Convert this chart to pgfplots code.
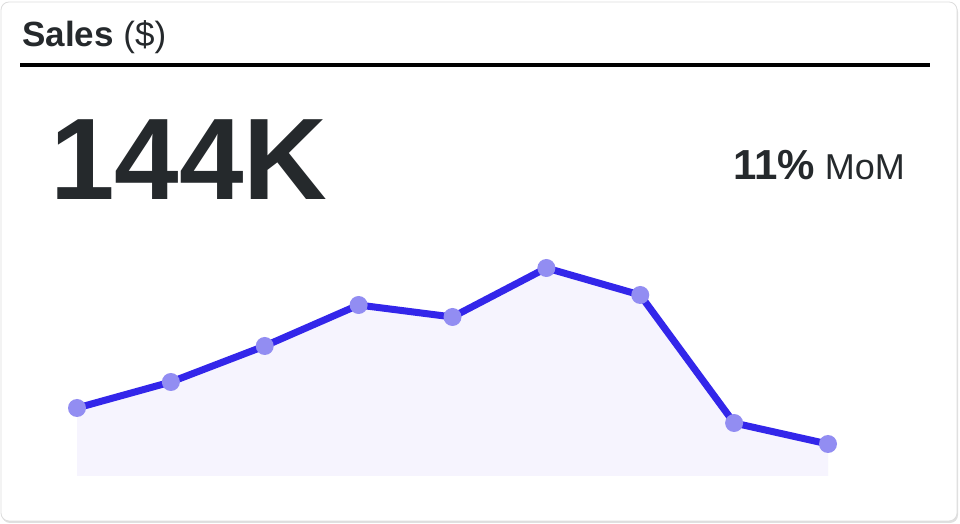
\documentclass[border=0pt]{standalone}
\usepackage{pgfplots}
\pgfplotsset{compat=1.18}
\usepackage{fontspec}
\setmainfont{Liberation Sans}
\definecolor{txt}{HTML}{25292C}
\definecolor{linec}{HTML}{3326EA}
\definecolor{markc}{HTML}{928DF2}
\definecolor{fillc}{HTML}{F6F4FE}
\definecolor{cardb}{HTML}{DDDDDD}
\begin{document}
\begin{tikzpicture}[x=1pt,y=1pt]
% page extent
\path (0,0) rectangle (960,524);
% card shadow and border
\fill[black!12, rounded corners=8pt] (2,1) rectangle (958,520);
\filldraw[fill=white, draw=cardb, line width=0.8pt, rounded corners=8pt] (1,3) rectangle (957,522);
% title
\node[anchor=base west, inner sep=0, text=txt] at (22,477) {\fontsize{35}{37}\selectfont\textbf{Sales} (\$)};
\fill[black] (20,456.5) rectangle (930,460.5);
% KPI
\node[anchor=base west, inner sep=0, text=txt] at (50,324) {\fontsize{116}{120}\selectfont\textbf{144K}};
\node[anchor=base east, inner sep=0, text=txt] at (905,344) {\fontsize{42}{46}\selectfont\textbf{11\%}\fontsize{36}{40}\selectfont\ MoM};
\begin{axis}[
  at={(77pt,48pt)}, anchor=south west,
  scale only axis, width=751pt, height=208pt,
  xmin=0, xmax=8, ymin=0, ymax=208,
  hide axis, clip=false,
]
\addplot[draw=none, fill=fillc] coordinates {
(0,68) (1,94) (2,130) (3,171) (4,159) (5,208) (6,181) (7,53) (8,32)} \closedcycle;
\addplot[only marks, mark=*, mark size=9pt,
  mark options={draw opacity=0, line width=0pt, fill=markc}] coordinates {
(0,68) (1,94) (2,130) (3,171) (4,159) (5,208) (6,181) (7,53) (8,32)};
\addplot[color=linec, line width=7pt, line join=round, no markers] coordinates {
(0,68) (1,94) (2,130) (3,171) (4,159) (5,208) (6,181) (7,53) (8,32)};
\end{axis}
\end{tikzpicture}
\end{document}
